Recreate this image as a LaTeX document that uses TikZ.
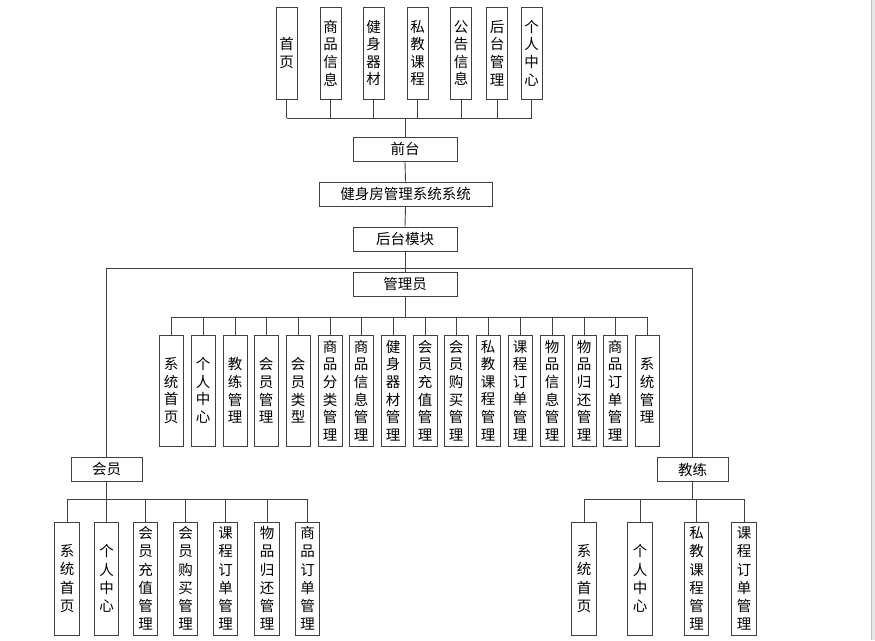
\documentclass[tikz,border=0pt]{standalone}
\usepackage{fontspec}
\newfontfamily\cjk{Noto Sans CJK SC}
\begin{document}
\begin{tikzpicture}[x=1pt,y=-1pt,
  box/.style={draw=black!75, line width=1pt, fill=white, inner sep=0pt,
    font=\cjk\fontsize{14.5}{17.6}\selectfont, align=center, text=black},
  topbox/.style={box, minimum width=21pt, minimum height=92pt},
  abox/.style={box, minimum width=24pt, minimum height=111pt},
  mbox/.style={box, minimum width=24.5pt, minimum height=113pt,
    font=\cjk\fontsize{14.5}{18.2}\selectfont},
  hbox/.style={box, minimum height=24pt},
  conn/.style={draw=black!75, line width=0.9pt}]
\useasboundingbox[fill=white] (0,0) rectangle (875,640);
\fill[gray!18] (871,0) rectangle (875,640);
\draw[gray!50, line width=1pt] (871.5,0) -- (871.5,640);

% top row
\foreach \x/\t [count=\i] in {286.5/首\\页, 330.5/商\\品\\信\\息, 373.5/健\\身\\器\\材,
  417.5/私\\教\\课\\程, 461/公\\告\\信\\息, 497/后\\台\\管\\理, 531.5/个\\人\\中\\心}
  {\node[topbox] (t\i) at (\x,53) {\t};}

\node[hbox, minimum width=104pt] (qt) at (405,149) {前台};
\node[hbox, minimum width=173pt] (sys) at (405.5,194) {健身房管理系统系统};
\node[hbox, minimum width=104pt] (ht) at (405,239) {后台模块};
\node[hbox, minimum width=104pt] (gly) at (405,284) {管理员};
\node[hbox, minimum width=71pt] (hy) at (106.5,469) {会员};
\node[hbox, minimum width=71pt] (jl) at (692.5,469.5) {教练};

\coordinate (topbus) at (405,118);
\coordinate (hbar) at (405,268);
\coordinate (abus) at (405,317);
\coordinate (mbus) at (106.5,499);
\coordinate (cbus) at (692.5,499);

% admin children
\foreach \x/\t [count=\i] in {171/系\\统\\首\\页, 203/个\\人\\中\\心, 235/教\\练\\管\\理,
  266/会\\员\\管\\理, 298/会\\员\\类\\型, 330/商\\品\\分\\类\\管\\理, 361/商\\品\\信\\息\\管\\理,
  393/健\\身\\器\\材\\管\\理, 425/会\\员\\充\\值\\管\\理, 456/会\\员\\购\\买\\管\\理,
  488/私\\教\\课\\程\\管\\理, 520/课\\程\\订\\单\\管\\理, 552/物\\品\\信\\息\\管\\理,
  584/物\\品\\归\\还\\管\\理, 615/商\\品\\订\\单\\管\\理, 647/系\\统\\管\\理}
  {\node[abox] (a\i) at (\x,390.5) {\t};}

% member children
\foreach \x/\t [count=\i] in {67/系\\统\\首\\页, 106.5/个\\人\\中\\心, 145.5/会\\员\\充\\值\\管\\理,
  185.5/会\\员\\购\\买\\管\\理, 225.5/课\\程\\订\\单\\管\\理, 267/物\\品\\归\\还\\管\\理,
  307.5/商\\品\\订\\单\\管\\理}
  {\node[mbox] (m\i) at (\x,578.5) {\t};}

% coach children
\foreach \x/\t [count=\i] in {584/系\\统\\首\\页, 640/个\\人\\中\\心, 696.5/私\\教\\课\\程\\管\\理,
  744/课\\程\\订\\单\\管\\理}
  {\node[mbox] (c\i) at (\x,578.5) {\t};}

% connectors: top
\foreach \i in {1,...,7} \draw[conn] (t\i.south) -- (t\i.south |- topbus);
\draw[conn] (t1.south |- topbus) -- (t7.south |- topbus);
\draw[conn] (qt.north |- topbus) -- (qt.north);
\draw[conn] (qt.south) -- (sys.north);
\draw[conn] (sys.south) -- (ht.north);
\draw[conn] (ht.south) -- (gly.north);
\draw[conn] (hy.north) -- (hy.north |- hbar) -- (jl.north |- hbar) -- (jl.north);

% admin bus
\draw[conn] (gly.south) -- (gly.south |- abus);
\foreach \i in {1,...,16} \draw[conn] (a\i.north) -- (a\i.north |- abus);
\draw[conn] (a1.north |- abus) -- (a16.north |- abus);

% member bus
\draw[conn] (hy.south) -- (hy.south |- mbus);
\foreach \i in {1,...,7} \draw[conn] (m\i.north) -- (m\i.north |- mbus);
\draw[conn] (m1.north |- mbus) -- (m7.north |- mbus);

% coach bus
\draw[conn] (jl.south) -- (jl.south |- cbus);
\foreach \i in {1,...,4} \draw[conn] (c\i.north) -- (c\i.north |- cbus);
\draw[conn] (c1.north |- cbus) -- (c4.north |- cbus);
\end{tikzpicture}
\end{document}
